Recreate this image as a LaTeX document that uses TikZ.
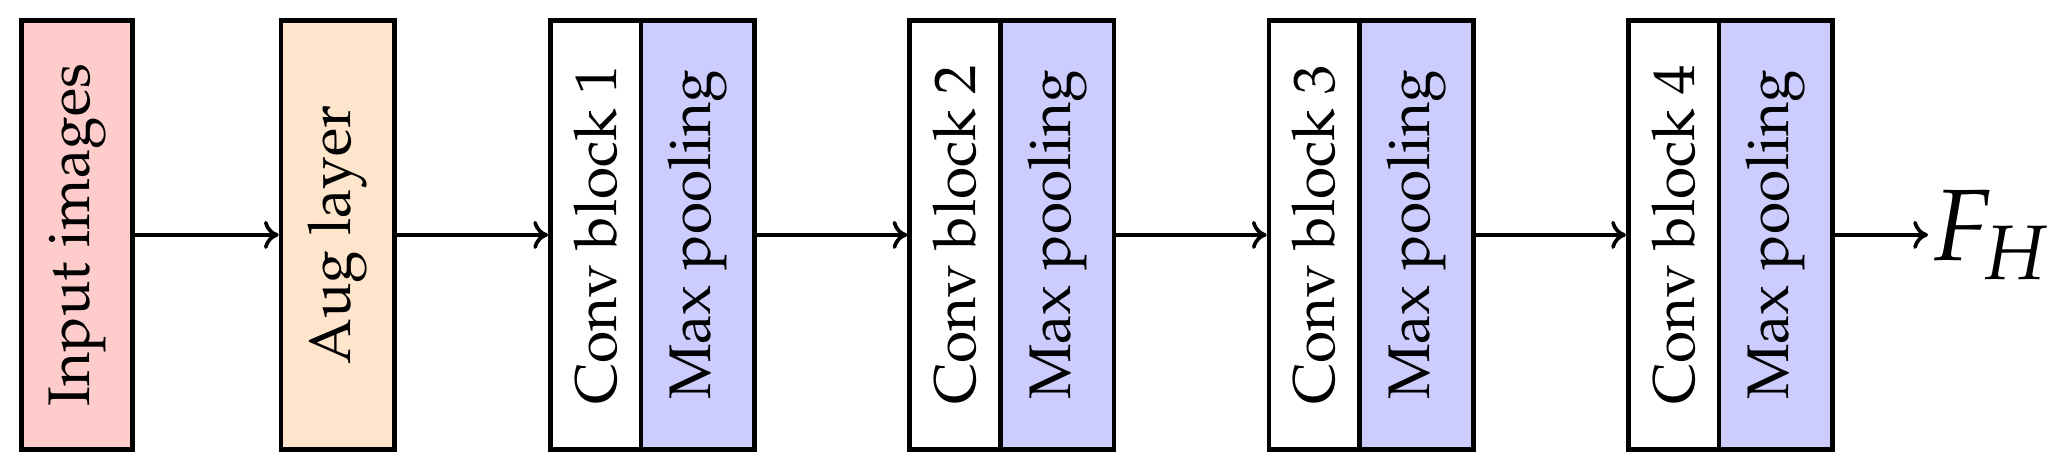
\documentclass[tikz,border=0pt]{standalone}
\usepackage[T1]{fontenc}
\usepackage{mathpazo}
\usetikzlibrary{arrows.meta}
\definecolor{InputPink}{HTML}{FFCCCC}
\definecolor{AugPeach}{HTML}{FFE5CC}
\definecolor{PoolBlue}{HTML}{CCCCFF}

\tikzset{
  layerbox/.style={draw=black, line width=1.3pt, rotate=90, inner sep=0pt,
    minimum width=4.289cm, font=\fontsize{16.7}{20}\selectfont},
  flow/.style={-{To[length=4.2pt,width=8pt]}, line width=1.05pt}
}

\begin{document}
\begin{tikzpicture}
          \useasboundingbox (0,0) rectangle (20.64,4.68);

          % input and augmentation
          \node[layerbox, fill=InputPink, minimum height=1.112cm] (input) at (0.770, 2.331) {Input images};
          \node[layerbox, fill=AugPeach, minimum height=1.136cm] (aug) at (3.378, 2.331) {Aug layer};

          % conv blocks with pooling
          \node[layerbox, fill=white, minimum height=0.907cm] (conv1) at (5.957, 2.331) {Conv block 1};
          \node[layerbox, fill=PoolBlue, minimum height=1.136cm] (pool1) at (6.978, 2.331) {Max pooling};

          \node[layerbox, fill=white, minimum height=0.907cm] (conv2) at (9.550, 2.331) {Conv block 2};
          \node[layerbox, fill=PoolBlue, minimum height=1.136cm] (pool2) at (10.571, 2.331) {Max pooling};

          \node[layerbox, fill=white, minimum height=0.907cm] (conv3) at (13.143, 2.331) {Conv block 3};
          \node[layerbox, fill=PoolBlue, minimum height=1.136cm] (pool3) at (14.164, 2.331) {Max pooling};

          \node[layerbox, fill=white, minimum height=0.907cm] (conv4) at (16.736, 2.331) {Conv block 4};
          \node[layerbox, fill=PoolBlue, minimum height=1.136cm] (pool4) at (17.757, 2.331) {Max pooling};

          % output feature
          \node[anchor=west, inner sep=0.5pt, font=\fontsize{28.9}{34}\selectfont] (feat) at (19.28, 2.331) {$F_H$};

          \draw[flow] (input.south) -- (aug.north);
          \draw[flow] (aug.south) -- (conv1.north);
          \draw[flow] (pool1.south) -- (conv2.north);
          \draw[flow] (pool2.south) -- (conv3.north);
          \draw[flow] (pool3.south) -- (conv4.north);
          \draw[flow] (pool4.south) -- (feat.west);
      \end{tikzpicture}
\end{document}
